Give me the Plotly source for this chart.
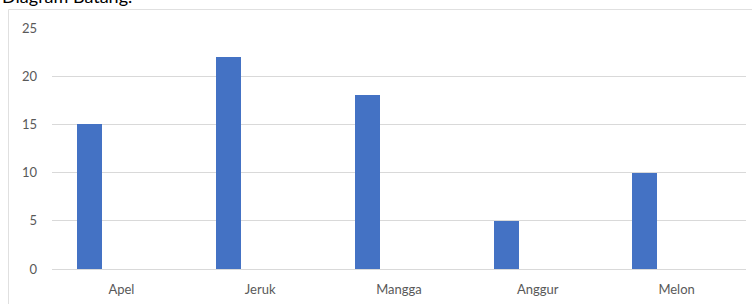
import plotly.graph_objects as go

categories = ["Apel", "Jeruk", "Mangga", "Anggur", "Melon"]
values = [15, 22, 18, 5, 10]
y_ticks = [0, 5, 10, 15, 20, 25]
title_text = "Diagram Batang."

W, H = 752, 304
ml, mr, mt, mb = 52, 6, 28, 35
pw = W - ml - mr
ph = H - mt - mb

def px_x(x):
    return (x - ml) / pw

def px_y(y):
    return 1 - (y - mt) / ph

fig = go.Figure()
fig.add_trace(go.Bar(
    x=categories, y=values,
    marker=dict(color="#4472C4", line=dict(width=0)),
    width=0.18, offset=-0.318,
    showlegend=False,
))

fig.update_layout(
    width=W, height=H,
    margin=dict(l=ml, r=mr, t=mt, b=mb, autoexpand=False),
    paper_bgcolor="white", plot_bgcolor="white",
    font=dict(family="Lato, Carlito, Liberation Sans, sans-serif", size=13, color="#595959"),
    xaxis=dict(showgrid=False, showline=True, linecolor="#d9d9d9", linewidth=1,
               ticks="", ticklabelstandoff=8, tickfont=dict(size=13, color="#595959"),
               range=[-0.5, 4.5], automargin=False),
    yaxis=dict(range=[0, 25], tickvals=y_ticks, showgrid=True, gridcolor="#d9d9d9",
               gridwidth=1, zeroline=False, showline=False, ticks="",
               ticklabelstandoff=14, tickfont=dict(size=13, color="#595959"),
               automargin=False),
    bargap=0,
)

fig.add_shape(type="line", xref="paper", yref="paper",
              x0=px_x(8.5), x1=px_x(752), y0=px_y(9.5), y1=px_y(9.5),
              line=dict(color="#e0e0e0", width=1))
fig.add_shape(type="line", xref="paper", yref="paper",
              x0=px_x(8.5), x1=px_x(8.5), y0=px_y(9.5), y1=px_y(304),
              line=dict(color="#e0e0e0", width=1))

fig.add_annotation(text=title_text, xref="paper", yref="paper",
                   x=px_x(0), y=px_y(9), xanchor="left", yanchor="bottom",
                   showarrow=False, font=dict(size=18, color="#000000",
                   family="Lato, Liberation Sans, sans-serif"))

fig.write_html("out.html",
               config={"displayModeBar": False},
               post_script="document.body.style.margin='0';document.body.style.overflow='hidden';")
